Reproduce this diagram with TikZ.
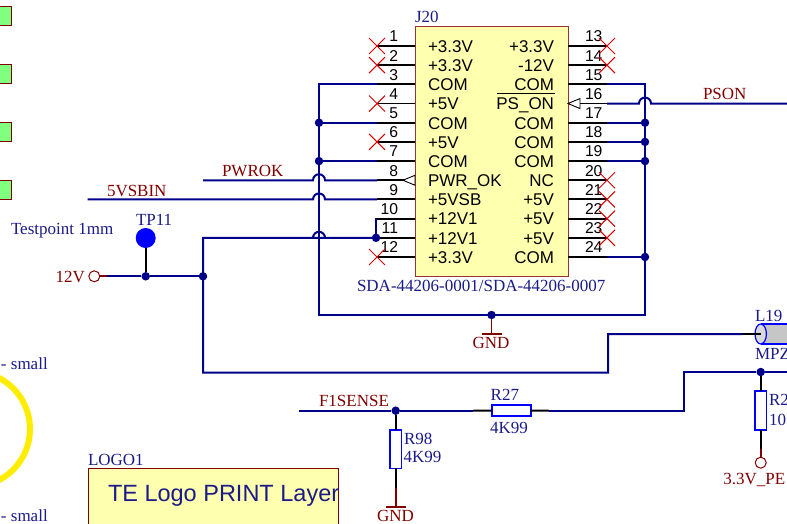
\documentclass[tikz,border=0pt]{standalone}
\usepackage{fontspec}
\setmainfont{Liberation Serif}
\newfontfamily\pinfont{Liberation Sans}
\usetikzlibrary{calc}
\definecolor{netblue}{HTML}{000088}
\definecolor{labelred}{HTML}{800000}
\definecolor{partblue}{HTML}{0000FF}
\definecolor{textblue}{HTML}{1A1A88}
\definecolor{bodyyellow}{HTML}{FFFFB0}
\definecolor{padgreen}{HTML}{80FF80}
\newcommand{\hopover}[1]{($(#1)+(-6,0)$) arc[start angle=180,end angle=0,radius=6pt]}

\begin{document}
\begin{tikzpicture}[x=1pt,y=-1pt,
    every node/.style={inner sep=0pt,outer sep=0pt},
    net/.style={netblue,line width=2pt,line join=miter},
    pinline/.style={black,line width=1.9pt},
    redline/.style={labelred,line width=1.9pt},
    nocon/.style={red!85!black,line width=1pt},
    junction/.style={circle,fill=netblue,minimum size=8.5pt},
    port/.style={circle,draw=labelred,fill=white,line width=1pt,minimum size=11pt},
    partbody/.style={draw=labelred!80,fill=bodyyellow,line width=1pt},
    resbody/.style={draw=partblue,fill=white,line width=1.8pt},
    pad/.style={draw=labelred,fill=padgreen,line width=1pt,minimum width=19pt,minimum height=19pt},
    netlabel/.style={labelred,anchor=base west,font=\fontsize{17}{20}\selectfont},
    partlabel/.style={textblue,anchor=base west,font=\fontsize{17}{20}\selectfont},
    pinnum/.style={black,font=\pinfont\fontsize{15.7}{18}\selectfont},
    pintext/.style={black,font=\pinfont\fontsize{17}{20}\selectfont}]

    \clip (0,0) rectangle (787,524);

    % mounting pads cut off at the left
    \foreach \i/\y in {1/16.5,2/74.5,3/132.5,4/189.5}{
        \node[pad] (pad\i) at (1.5,\y) {};
    }

    % connector body and its pins
    \node[partbody,minimum width=153pt,minimum height=249pt] (J20box) at (491.5,151.5) {};
    \node[partlabel] (J20) at (415,22.7) {J20};
    \node[partlabel] (J20val) at (357,291.7) {SDA-44206-0001/SDA-44206-0007};

    \foreach \n/\txt in {1/+3.3V,2/+3.3V,3/COM,4/+5V,5/COM,6/+5V,7/COM,8/PWR\_OK,9/+5VSB,10/+12V1,11/+12V1,12/+3.3V}{
        \coordinate (pinA\n) at (415,{46+(\n-1)*19.18});
        \coordinate (stubA\n) at ($(pinA\n)+(-38,0)$);
        \draw[pinline] (pinA\n) -- (stubA\n);
        \node[pinnum,anchor=east] (numA\n) at ($(pinA\n)+(-17,-9.5)$) {\n};
        \node[pintext,anchor=base west] (nameA\n) at ($(pinA\n)+(13,6.3)$) {\txt};
    }
    \foreach \n/\txt in {13/+3.3V,14/-12V,15/COM,16/PS\_ON,17/COM,18/COM,19/COM,20/NC,21/+5V,22/+5V,23/+5V,24/COM}{
        \coordinate (pinB\n) at (568,{46+(\n-13)*19.18});
        \coordinate (stubB\n) at ($(pinB\n)+(39,0)$);
        \draw[pinline] (pinB\n) -- (stubB\n);
        \node[pinnum,anchor=west] (numB\n) at ($(pinB\n)+(17,-9.5)$) {\n};
        \node[pintext,anchor=base east] (nameB\n) at ($(pinB\n)+(-14,6.3)$) {\txt};
    }
    \draw[black,line width=1.3pt] ($(nameB16.north west)+(1,-4.5)$) -- ($(nameB16.north east)+(1,-4.5)$);

    % open arrows on pins 8 and 16
    \draw[black,fill=white,line width=0.9pt] ($(pinA8)+(-12,0)$) -- ($(pinA8)+(0,-5)$) -- ($(pinA8)+(0,5)$) -- cycle;
    \draw[black,fill=white,line width=0.9pt] (pinB16) -- ($(pinB16)+(12,-5)$) -- ($(pinB16)+(12,5)$) -- cycle;
    \draw[pinline] ($(pinB16)+(12,0)$) -- (stubB16);

    % not connected marks
    \foreach \p in {stubA1,stubA2,stubA4,stubA6,stubA12,stubB13,stubB14,stubB20,stubB21,stubB22,stubB23}{
        \draw[nocon] ($(\p)+(-8,-8)$) -- ($(\p)+(8,8)$);
        \draw[nocon] ($(\p)+(-8,8)$) -- ($(\p)+(8,-8)$);
    }

    % ground rail round the connector
    \coordinate (railL) at (319,315);
    \coordinate (railR) at (645,315);
    \draw[net] (stubA3) -| (railL) -- (railR) |- (stubB15);
    \foreach \n in {5,7}{
        \node[junction] (jctA\n) at (stubA\n -| railL) {};
        \draw[net] (stubA\n) -- (jctA\n);
    }
    \foreach \n in {17,18,19,24}{
        \node[junction] (jctB\n) at (stubB\n -| railR) {};
        \draw[net] (stubB\n) -- (jctB\n);
    }
    \node[junction] (jctGnd) at (491.5,315) {};
    \coordinate (gndTop) at (491.5,334);
    \draw[redline] (jctGnd) -- (gndTop);
    \draw[redline] ($(gndTop)+(-10,0)$) -- ($(gndTop)+(10,0)$);
    \node[netlabel,anchor=base] (gndTopLbl) at (491,348) {GND};

    % signals hopping over the rail
    \coordinate (hopA8) at (stubA8 -| railL);
    \coordinate (hopA9) at (stubA9 -| railL);
    \coordinate (hopA11) at (stubA11 -| railL);
    \coordinate (hopB16) at (stubB16 -| railR);
    \coordinate (pwrokEnd) at (203,{46+7*19.18});
    \coordinate (vsbEnd) at (87.5,{46+8*19.18});
    \coordinate (psonEnd) at (787,{46+3*19.18});
    \draw[net] (pwrokEnd) -- \hopover{hopA8} -- (stubA8);
    \draw[net] (vsbEnd) -- \hopover{hopA9} -- (stubA9);
    \draw[net] (stubB16) -- \hopover{hopB16} -- (psonEnd);
    \node[netlabel] (pwrokLbl) at (222,176.7) {PWROK};
    \node[netlabel] (vsbLbl) at (107,196) {5VSBIN};
    \node[netlabel] (psonLbl) at (703,100) {PSON};

    % 12V feed
    \node[junction] (jctA11) at (376,{46+10*19.18}) {};
    \draw[net] (stubA10) -- ($(stubA10)+(-1,0)$) -- (jctA11);
    \coordinate (feedTop) at (203,{46+10*19.18});
    \coordinate (feedLow) at (203,372.5);
    \coordinate (feedUp) at (608,334);
    \coordinate (chokeStub) at (742,334);
    \coordinate (chokeIn) at (760.7,334);
    \draw[net] (jctA11) -- \hopover{hopA11} -- (feedTop) -- (feedLow) -| (feedUp) -- (chokeStub);

    \node[port] (port12V) at (94.3,276.3) {};
    \node[junction] (jctTP) at (145.7,276.3) {};
    \node[junction] (jctFeed) at (203,276.3) {};
    \node[circle,fill=partblue,minimum size=20pt] (tp11) at (145.7,238) {};
    \coordinate (portStub) at (107,276.3);
    \draw[redline] (port12V) -- (portStub);
    \draw[net] (portStub) -- (jctTP) -- (jctFeed);
    \draw[pinline] (tp11) -- (jctTP);
    \node[partlabel] (tp11Lbl) at (136,225) {TP11};
    \node[partlabel] (tp11Val) at (11,234) {Testpoint 1mm};
    \node[netlabel] (port12VLbl) at (55.7,282) {12V};

    % choke
    \fill[gray!45] (760.7,324) rectangle (800,344);
    \draw[partblue,line width=1.2pt] (760.7,324) -- (800,324);
    \draw[partblue,line width=1.2pt] (760.7,344) -- (800,344);
    \draw[partblue,fill=gray!30,line width=1.2pt] (760.7,334) ellipse (5.7pt and 10pt);
    \draw[pinline] (chokeStub) -- (chokeIn);
    \node[partlabel] (L19) at (755,321) {L19};
    \node[partlabel] (L19val) at (755,359) {MPZ};

    % sense line
    \coordinate (senseEnd) at (299,410.7);
    \node[junction] (jctSense) at (395.7,410.7) {};
    \coordinate (r27In) at (473,410.7);
    \node[resbody,minimum width=39pt,minimum height=11.6pt] (R27) at (511.2,410.5) {};
    \coordinate (r27Out) at (549,410.7);
    \coordinate (upperRight) at (787,372);
    \node[junction] (jctUpper) at (760.7,372) {};
    \draw[net] (senseEnd) -- (jctSense) -- (r27In);
    \draw[pinline] (r27In) -- (R27);
    \draw[pinline] (R27) -- (r27Out);
    \draw[net] (r27Out) -- (684,410.7) -- (684,372) -- (jctUpper) -- (upperRight);
    \node[netlabel] (senseLbl) at (319,406.7) {F1SENSE};
    \node[partlabel] (R27Lbl) at (490.7,400) {R27};
    \node[partlabel] (R27val) at (490,433.3) {4K99};

    % R98 to ground
    \node[resbody,minimum width=11.6pt,minimum height=38.5pt] (R98) at (395.7,449.2) {};
    \coordinate (r98Out) at (395.7,487.7);
    \coordinate (gndLow) at (395.7,506.7);
    \draw[pinline] (jctSense) -- (R98);
    \draw[pinline] (R98) -- (r98Out);
    \draw[redline] (r98Out) -- (gndLow);
    \draw[redline] ($(gndLow)+(-10,0)$) -- ($(gndLow)+(10,0)$);
    \node[partlabel] (R98Lbl) at (404,444) {R98};
    \node[partlabel] (R98val) at (403.5,462.7) {4K99};
    \node[netlabel] (gndLowLbl) at (377,521.7) {GND};

    % pull-up at the right edge
    \node[resbody,minimum width=11.6pt,minimum height=39pt] (R2x) at (760.7,410.5) {};
    \node[port] (port33V) at (760.7,462.7) {};
    \coordinate (r2Out) at (760.7,449);
    \draw[pinline] (jctUpper) -- (R2x);
    \draw[pinline] (R2x) -- (r2Out);
    \draw[redline] (r2Out) -- (port33V);
    \node[partlabel] (R2xLbl) at (769,405) {R2};
    \node[partlabel] (R2xVal) at (769,425) {10};
    \node[netlabel] (port33VLbl) at (723.3,484) {3.3V\_PE};

    % mounting hole ring and its labels
    \draw[yellow!95!orange,line width=6pt] (-27.7,429) circle (57.7pt);
    \node[partlabel] (holeA) at (1,369) {- small};
    \node[partlabel] (holeB) at (1,521.7) {- small};

    % logo block
    \node[partbody,draw=labelred,minimum width=250pt,minimum height=72pt] (logoBox) at (213,504) {};
    \node[partlabel] (logoLbl) at (88,465) {LOGO1};
    \node[textblue,anchor=base west,font=\pinfont\fontsize{23.5}{28}\selectfont] (logoText) at (108,501.7) {TE Logo PRINT Layer};

\end{tikzpicture}
\end{document}
